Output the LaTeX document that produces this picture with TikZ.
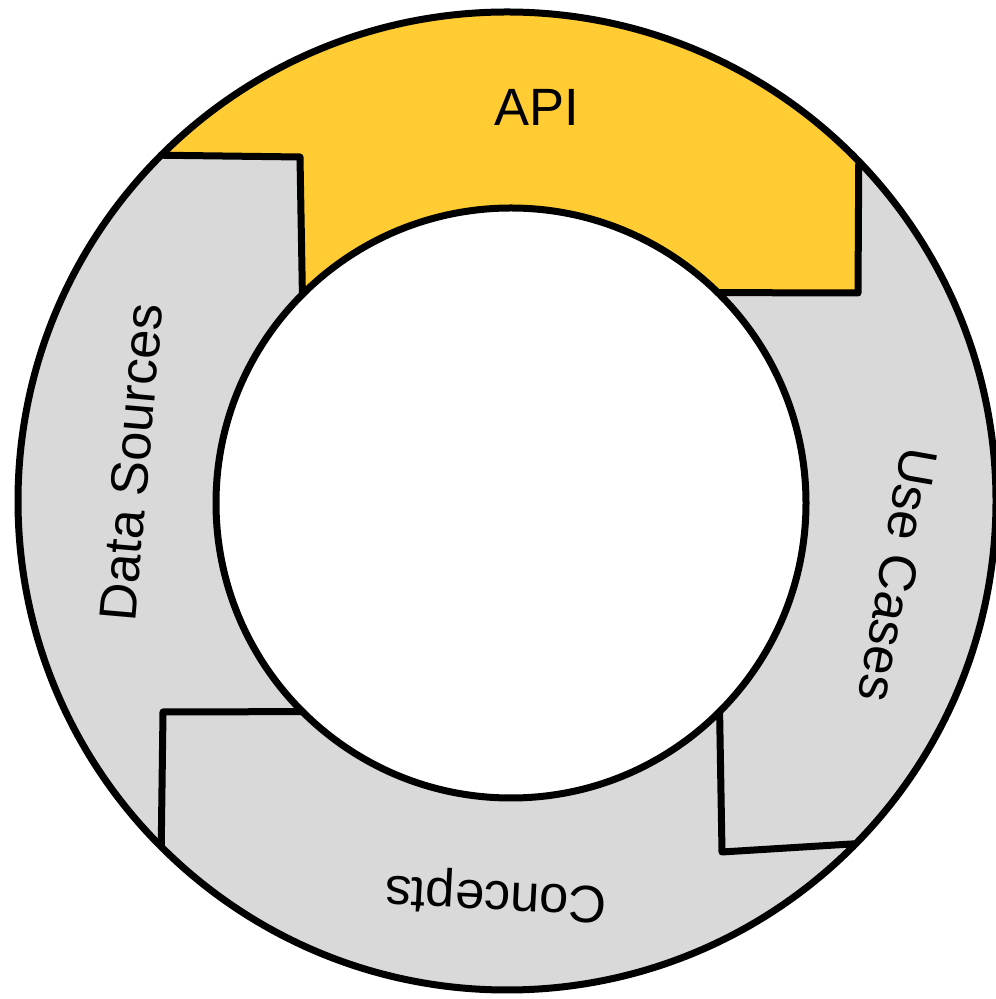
\documentclass[tikz,border=0pt]{standalone}
\usepackage{fontspec}
\setmainfont{Liberation Sans}
\usetikzlibrary{calc}
\definecolor{apiyellow}{HTML}{FFCD33}
\definecolor{ringgray}{HTML}{D9D9D9}
\begin{document}
\begin{tikzpicture}[x=1pt,y=1pt,
  ringline/.style={line width=7pt,line join=round,line cap=round},
  label/.style={inner sep=0pt,font=\fontsize{52.5}{60}\selectfont}]
\useasboundingbox (0,0) rectangle (996,999);
% ring geometry: outer and inner circle centres and radii
\coordinate (O) at (507,498);
\coordinate (I) at (511,496);
\def\Ro{489}
\def\Ri{295}
% step points where neighbouring segments meet
\coordinate (tlo) at ($(O)+(135:\Ro)$);
\coordinate (tlc) at (300,842);
\coordinate (tli) at ($(I)+(135:\Ri)$);
\coordinate (tro) at ($(O)+(44:\Ro)$);
\coordinate (trc) at (858,706);
\coordinate (tri) at ($(I)+(45.5:\Ri)$);
\coordinate (bro) at ($(O)+(-44.5:\Ro)$);
\coordinate (brc) at (722,147);
\coordinate (bri) at ($(I)+(-45:\Ri)$);
\coordinate (blo) at ($(O)+(225:\Ro)$);
\coordinate (blc) at (163,287);
\coordinate (bli) at ($(I)+(225:\Ri)$);
% segment fills
\fill[apiyellow] (tlo) arc[start angle=135,end angle=44,radius=\Ro]
  -- (trc) -- (tri) arc[start angle=45.5,end angle=135,radius=\Ri]
  -- (tlc) -- cycle;
\fill[ringgray] (tro) arc[start angle=44,end angle=-44.5,radius=\Ro]
  -- (brc) -- (bri) arc[start angle=-45,end angle=45.5,radius=\Ri]
  -- (trc) -- cycle;
\fill[ringgray] (bro) arc[start angle=-44.5,end angle=-135,radius=\Ro]
  -- (blc) -- (bli) arc[start angle=225,end angle=315,radius=\Ri]
  -- (brc) -- cycle;
\fill[ringgray] (blo) arc[start angle=225,end angle=135,radius=\Ro]
  -- (tlc) -- (tli) arc[start angle=135,end angle=225,radius=\Ri]
  -- (blc) -- cycle;
% step lines between segments
\draw[ringline] (tlo) -- (tlc) -- (tli);
\draw[ringline] (tro) -- (trc) -- (tri);
\draw[ringline] (bri) -- (brc) -- (bro);
\draw[ringline] (bli) -- (blc) -- (blo);
% ring outlines
\draw[ringline] (O) circle[radius=\Ro];
\draw[ringline,fill=white] (I) circle[radius=\Ri];
% labels
\node[label] (api) at (537,892) {API};
\node[label,rotate=85] (data) at (131,537) {Data Sources};
\node[label,rotate=-100] (uses) at (898,424) {Use Cases};
\node[label,rotate=177] (concepts) at (496,104) {Concepts};
\end{tikzpicture}
\end{document}
